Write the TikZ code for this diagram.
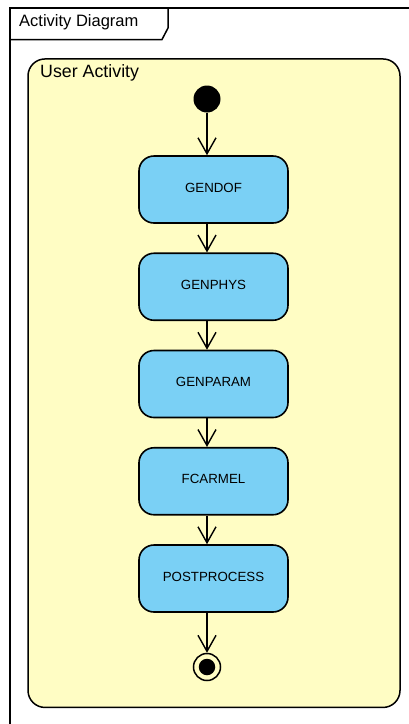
\documentclass[tikz,border=0pt]{standalone}
\usepackage{fontspec}
\setmainfont{Liberation Sans}
\usetikzlibrary{arrows.meta}
\definecolor{actyellow}{RGB}{255,253,196}
\definecolor{actblue}{RGB}{122,208,245}
\begin{document}
\begin{tikzpicture}[x=1pt,y=-1pt,
  framestyle/.style={draw=black, line width=1.5pt},
  container/.style={draw=black, line width=1.5pt, fill=actyellow, rounded corners=17pt,
    minimum width=372pt, minimum height=648.5pt, inner sep=0pt},
  actionbox/.style={draw=black, line width=1.6pt, fill=actblue, rounded corners=15pt,
    minimum width=149pt, minimum height=67pt, inner sep=0pt, text depth=4pt,
    font=\fontsize{13.3}{15}\selectfont},
  startnode/.style={circle, fill=black, minimum size=27pt, inner sep=0pt},
  finalring/.style={circle, draw=black, line width=1.5pt, fill=actyellow, minimum size=27pt, inner sep=0pt},
  finaldot/.style={circle, fill=black, minimum size=16.5pt, inner sep=0pt},
  flow/.style={draw=black, line width=1.4pt,
    -{Straight Barb[length=16pt,width=18pt,line width=1.4pt]}},
  titletext/.style={anchor=west, inner sep=0pt, font=\fontsize{16.5}{18}\selectfont}
]
\useasboundingbox (0,0) rectangle (409,724);
\fill[white] (0,0) rectangle (409,724);
% frame
\draw[framestyle] (409,8) -- (10,8) -- (10,724);
\draw[framestyle, line join=miter] (10,39.5) -- (162,39.5) -- (168,28) -- (168,8);
\node[titletext] (frametitle) at (19,22) {Activity Diagram};
% container
\node[container] (act) at (214,383.2) {};
\node[titletext, font=\fontsize{17.8}{19}\selectfont] (acttitle) at (40,72.5) {User Activity};
% nodes
\node[startnode] (start) at (207,99) {};
\node[actionbox] (gendof) at (213.5,189.5) {GENDOF};
\node[actionbox] (genphys) at (213.5,286.75) {GENPHYS};
\node[actionbox] (genparam) at (213.5,384) {GENPARAM};
\node[actionbox] (fcarmel) at (213.5,481.25) {FCARMEL};
\node[actionbox] (postprocess) at (213.5,578.5) {POSTPROCESS};
\node[finalring] (final) at (207,667) {};
\node[finaldot] (finaldot) at (final.center) {};
% flows
\draw[flow] (start) -- (gendof.north -| start);
\draw[flow] (gendof.south -| start) -- (genphys.north -| start);
\draw[flow] (genphys.south -| start) -- (genparam.north -| start);
\draw[flow] (genparam.south -| start) -- (fcarmel.north -| start);
\draw[flow] (fcarmel.south -| start) -- (postprocess.north -| start);
\draw[flow] (postprocess.south -| start) -- (final);
\end{tikzpicture}
\end{document}
